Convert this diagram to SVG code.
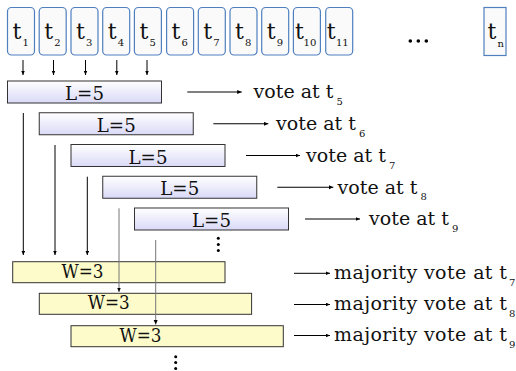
<svg xmlns="http://www.w3.org/2000/svg" width="516" height="371" viewBox="0 0 516 371">
<defs>
<linearGradient id="lg" x1="0" y1="0" x2="0" y2="1">
<stop offset="0" stop-color="#ffffff"/>
<stop offset="1" stop-color="#d9d9f7"/>
</linearGradient>
<marker id="ah" markerUnits="userSpaceOnUse" markerWidth="6" markerHeight="6" refX="4.5" refY="2" orient="auto">
<path d="M0,0 L4.5,2 L0,4 z" fill="#000"/>
</marker>
</defs>
<style>
.tb{fill:#fafafa;stroke:#4f7fbf;stroke-width:1.2}
.lb{fill:url(#lg);stroke:#333;stroke-width:1}
.wb{fill:#fdfbca;stroke:#333;stroke-width:1}
text{font-family:'DejaVu Serif','Liberation Serif',serif;fill:#111}
.big{font-size:22px}
.sub{font-size:10px}
.lab{font-size:18px}
.main{font-size:19px}
.ln{stroke:#000;stroke-width:1;fill:none}
.lg{stroke:#777;stroke-width:1;fill:none}
</style>
<g id="t1"><rect class="tb" x="7.5" y="7.5" width="27" height="47.5" rx="4"/><text class="big" x="12.5" y="39">t</text><text class="sub" x="22.5" y="46">1</text></g>
<g id="t2"><rect class="tb" x="39.2" y="7.5" width="27" height="47.5" rx="4"/><text class="big" x="44.2" y="39">t</text><text class="sub" x="54.2" y="46">2</text></g>
<g id="t3"><rect class="tb" x="71" y="7.5" width="27" height="47.5" rx="4"/><text class="big" x="76" y="39">t</text><text class="sub" x="86" y="46">3</text></g>
<g id="t4"><rect class="tb" x="102.7" y="7.5" width="27" height="47.5" rx="4"/><text class="big" x="107.7" y="39">t</text><text class="sub" x="117.7" y="46">4</text></g>
<g id="t5"><rect class="tb" x="134.4" y="7.5" width="27" height="47.5" rx="4"/><text class="big" x="139.4" y="39">t</text><text class="sub" x="149.4" y="46">5</text></g>
<g id="t6"><rect class="tb" x="166.6" y="7.5" width="27" height="47.5" rx="4"/><text class="big" x="171.6" y="39">t</text><text class="sub" x="181.6" y="46">6</text></g>
<g id="t7"><rect class="tb" x="198.3" y="7.5" width="27" height="47.5" rx="4"/><text class="big" x="203.3" y="39">t</text><text class="sub" x="213.3" y="46">7</text></g>
<g id="t8"><rect class="tb" x="230" y="7.5" width="27" height="47.5" rx="4"/><text class="big" x="235" y="39">t</text><text class="sub" x="245" y="46">8</text></g>
<g id="t9"><rect class="tb" x="261.7" y="7.5" width="27" height="47.5" rx="4"/><text class="big" x="266.7" y="39">t</text><text class="sub" x="276.7" y="46">9</text></g>
<g id="t10"><rect class="tb" x="293.4" y="7.5" width="27" height="47.5" rx="4"/><text class="big" x="295" y="39">t</text><text class="sub" x="303.6" y="46">10</text></g>
<g id="t11"><rect class="tb" x="325.7" y="7.5" width="27" height="47.5" rx="4"/><text class="big" x="326.8" y="39">t</text><text class="sub" x="336" y="46">11</text></g>
<g id="dots-top" fill="#000"><circle cx="410.3" cy="41" r="1.8"/><circle cx="418.3" cy="41" r="1.8"/><circle cx="426.3" cy="41" r="1.8"/></g>
<g id="tn"><rect class="tb" x="484" y="7.5" width="22" height="48"/><text class="big" x="487.5" y="39">t</text><text class="sub" x="497.5" y="46.5">n</text></g>

<g id="L1"><rect class="lb" x="7.5" y="81" width="154" height="22"/><text class="lab" x="84.5" y="100" text-anchor="middle" textLength="39" lengthAdjust="spacingAndGlyphs">L=5</text></g>
<g id="L2"><rect class="lb" x="39.25" y="112.75" width="154" height="22"/><text class="lab" x="116.25" y="131.8" text-anchor="middle" textLength="39" lengthAdjust="spacingAndGlyphs">L=5</text></g>
<g id="L3"><rect class="lb" x="71" y="144.5" width="154" height="22"/><text class="lab" x="148" y="163.5" text-anchor="middle" textLength="39" lengthAdjust="spacingAndGlyphs">L=5</text></g>
<g id="L4"><rect class="lb" x="102.75" y="176.25" width="154" height="22"/><text class="lab" x="179.75" y="195.3" text-anchor="middle" textLength="39" lengthAdjust="spacingAndGlyphs">L=5</text></g>
<g id="L5"><rect class="lb" x="134.5" y="208" width="154" height="22"/><text class="lab" x="211.5" y="227" text-anchor="middle" textLength="39" lengthAdjust="spacingAndGlyphs">L=5</text></g>
<g id="dots-mid" fill="#000"><circle cx="218.3" cy="238.3" r="1.5"/><circle cx="218.3" cy="244.4" r="1.5"/><circle cx="218.3" cy="250.5" r="1.5"/></g>

<g id="W1"><rect class="wb" x="12.7" y="261.7" width="212.3" height="21"/><text class="lab" x="82.5" y="277.5" text-anchor="middle" textLength="42" lengthAdjust="spacingAndGlyphs">W=3</text></g>
<g id="W2"><rect class="wb" x="39.3" y="293.3" width="212.3" height="21"/><text class="lab" x="108.8" y="309.1" text-anchor="middle" textLength="42" lengthAdjust="spacingAndGlyphs">W=3</text></g>
<g id="W3"><rect class="wb" x="71" y="325.7" width="212.3" height="21"/><text class="lab" x="140.5" y="341.5" text-anchor="middle" textLength="42" lengthAdjust="spacingAndGlyphs">W=3</text></g>
<g id="dots-bot" fill="#000"><circle cx="175.7" cy="356.7" r="1.5"/><circle cx="175.7" cy="362.6" r="1.5"/><circle cx="175.7" cy="368.5" r="1.5"/></g>

<g id="connectors">
<line class="ln" x1="23" y1="60" x2="23" y2="75" marker-end="url(#ah)"/>
<line class="ln" x1="53.5" y1="60" x2="53.5" y2="75" marker-end="url(#ah)"/>
<line class="ln" x1="85.5" y1="60" x2="85.5" y2="75" marker-end="url(#ah)"/>
<line class="ln" x1="116.8" y1="60" x2="116.8" y2="75" marker-end="url(#ah)"/>
<line class="ln" x1="147" y1="60" x2="147" y2="75" marker-end="url(#ah)"/>

<line class="ln" x1="187.3" y1="92" x2="241.7" y2="92" marker-end="url(#ah)"/>
<line class="ln" x1="213.3" y1="123.75" x2="268.3" y2="123.75" marker-end="url(#ah)"/>
<line class="ln" x1="246" y1="155.5" x2="300" y2="155.5" marker-end="url(#ah)"/>
<line class="ln" x1="277.3" y1="187.25" x2="333.3" y2="187.25" marker-end="url(#ah)"/>
<line class="ln" x1="305" y1="219" x2="360" y2="219" marker-end="url(#ah)"/>

<line class="ln" x1="23.3" y1="113" x2="23.3" y2="255" marker-end="url(#ah)"/>
<line class="ln" x1="55" y1="145" x2="55" y2="255" marker-end="url(#ah)"/>
<line class="ln" x1="87.3" y1="176.7" x2="87.3" y2="255" marker-end="url(#ah)"/>
<line class="lg" x1="119" y1="208.3" x2="119" y2="292" marker-end="url(#ah)"/>
<line class="lg" x1="155.7" y1="240" x2="155.7" y2="324.5" marker-end="url(#ah)"/>

<line class="ln" x1="294" y1="273.3" x2="330" y2="273.3" marker-end="url(#ah)"/>
<line class="ln" x1="294" y1="304.5" x2="330" y2="304.5" marker-end="url(#ah)"/>
<line class="ln" x1="294" y1="335.5" x2="330" y2="335.5" marker-end="url(#ah)"/>
</g>

<g id="vote-labels">
<text class="main" x="253.5" y="98.3" textLength="80" lengthAdjust="spacing">vote at t</text><text class="sub" x="336.5" y="105">5</text>
<text class="main" x="276" y="130" textLength="80" lengthAdjust="spacing">vote at t</text><text class="sub" x="359" y="136.8">6</text>
<text class="main" x="306" y="161.8" textLength="80" lengthAdjust="spacing">vote at t</text><text class="sub" x="389" y="168.5">7</text>
<text class="main" x="337.5" y="193.5" textLength="80" lengthAdjust="spacing">vote at t</text><text class="sub" x="420.5" y="200.3">8</text>
<text class="main" x="369" y="225.3" textLength="80" lengthAdjust="spacing">vote at t</text><text class="sub" x="452" y="232">9</text>
</g>
<g id="majority-labels">
<text class="main" x="334" y="279" textLength="173" lengthAdjust="spacing">majority vote at t</text><text class="sub" x="509" y="286">7</text>
<text class="main" x="334" y="310.2" textLength="173" lengthAdjust="spacing">majority vote at t</text><text class="sub" x="509" y="317.2">8</text>
<text class="main" x="334" y="341.2" textLength="173" lengthAdjust="spacing">majority vote at t</text><text class="sub" x="509" y="348.2">9</text>
</g>
</svg>
